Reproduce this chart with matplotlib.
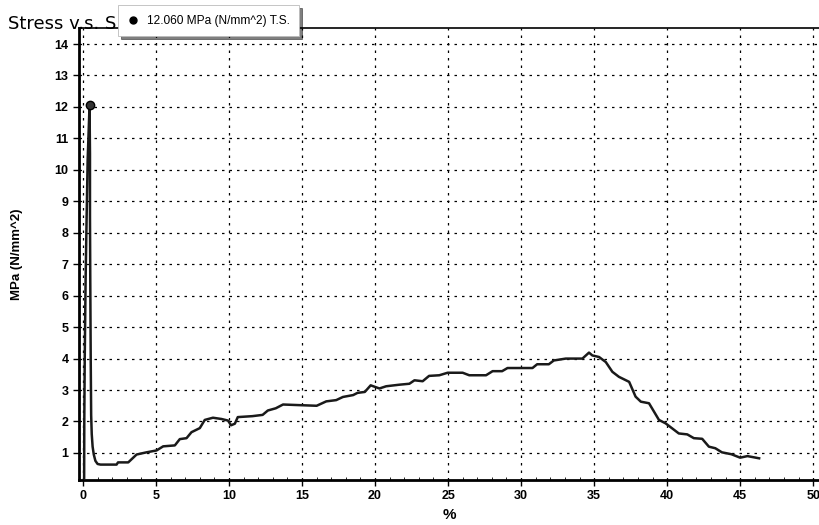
import matplotlib
matplotlib.use("Agg")
import matplotlib.pyplot as plt
from matplotlib.ticker import MultipleLocator

strain = [0.08, 0.09, 0.12, 0.18, 0.25, 0.32, 0.45, 0.48, 0.48, 0.50, 0.53, 0.56, 0.60, 0.66,
          0.74, 0.85, 1.0, 1.2, 2.3, 2.4, 3.1, 3.67, 4.35, 5.04, 5.49, 6.29, 6.63, 7.09, 7.43,
          8.0, 8.34, 8.9, 9.48, 9.93, 10.14, 10.4, 10.6, 11.6, 12.3, 12.66, 13.2, 13.7, 14.83,
          16.0, 16.66, 17.34, 17.8, 18.5, 18.8, 19.3, 19.7, 20.3, 20.76, 21.67, 22.35, 22.7,
          23.26, 23.7, 24.4, 24.97, 26.0, 26.45, 27.6, 28.05, 28.7, 29.07, 30.78, 31.1, 31.9,
          32.24, 33.06, 34.2, 34.65, 34.88, 35.34, 35.8, 36.25, 36.7, 37.4, 37.84, 38.2, 38.76,
          39.44, 39.9, 40.8, 41.38, 41.83, 42.4, 42.86, 43.3, 43.75, 44.4, 45.0, 45.5, 46.3]
stress = [0.2, 2.0, 4.0, 6.5, 8.5, 10.3, 12.06, 10.5, 8.5, 6.5, 4.0, 2.2, 1.6, 1.2,
          0.95, 0.75, 0.65, 0.63, 0.63, 0.70, 0.70, 0.95, 1.02, 1.08, 1.21, 1.24, 1.44, 1.47, 1.66,
          1.79, 2.05, 2.12, 2.08, 2.03, 1.88, 1.93, 2.14, 2.17, 2.21, 2.35, 2.42, 2.54, 2.52,
          2.50, 2.64, 2.68, 2.78, 2.84, 2.91, 2.94, 3.15, 3.05, 3.12, 3.17, 3.20, 3.31,
          3.28, 3.45, 3.47, 3.55, 3.55, 3.47, 3.47, 3.60, 3.60, 3.70, 3.70, 3.82, 3.82,
          3.94, 4.00, 4.00, 4.19, 4.10, 4.05, 3.89, 3.58, 3.42, 3.26, 2.79, 2.63, 2.58,
          2.05, 1.94, 1.62, 1.59, 1.47, 1.45, 1.20, 1.15, 1.02, 0.96, 0.85, 0.90, 0.83]

peak_strain = 0.45
peak_stress = 12.06
legend_label = "12.060 MPa (N/mm^2) T.S."
title_text = "Stress v.s. S"
x_ticks = list(range(0, 51, 5))
y_ticks = list(range(1, 15))

plt.rcParams['font.family'] = ['Liberation Sans', 'DejaVu Sans']

fig = plt.figure(figsize=(8.19, 5.25), dpi=100)
ax = fig.add_axes([0.0965, 0.0857, 0.9035, 0.861])

ax.plot(strain, stress, color='#1a1a1a', lw=1.8, zorder=3)
ax.plot([peak_strain], [peak_stress], 'o', color='#333333', mec='black', ms=6, zorder=4)

ax.set_xlim(-0.27, 50.4)
ax.set_ylim(0.14, 14.51)
ax.set_xticks(x_ticks)
ax.set_yticks(y_ticks)
ax.xaxis.set_minor_locator(MultipleLocator(1))
ax.tick_params(axis='both', which='major', labelsize=9, width=1, length=4, color='black')
ax.tick_params(axis='x', which='minor', direction='in', length=2)
for lab in ax.get_xticklabels() + ax.get_yticklabels():
    lab.set_fontweight('bold')

ax.grid(True, which='major', color='black', linestyle=(0, (2, 4)), linewidth=0.9)

for side in ['left', 'bottom']:
    ax.spines[side].set_linewidth(2.0)
ax.spines['top'].set_linewidth(1.2)
ax.spines['right'].set_visible(False)

ax.set_xlabel('%', fontsize=11, fontweight='bold', labelpad=4)
ax.set_ylabel('MPa (N/mm^2)', fontsize=9.5, fontweight='bold', labelpad=23)

fig.text(0.010, 0.945, title_text, fontsize=13, color='black', ha='left', va='baseline',
         family=['DejaVu Sans'])

h, = ax.plot([], [], 'o', color='black', ms=5)
leg = fig.legend([h], [legend_label], loc='upper left', bbox_to_anchor=(0.144, 0.99),
                 bbox_transform=fig.transFigure, frameon=True, fancybox=False,
                 shadow={'color': 'black'}, fontsize=8.6, handlelength=0.9,
                 handletextpad=0.7, borderpad=0.8, borderaxespad=0)
leg.get_frame().set_edgecolor('#bbbbbb')
leg.get_frame().set_linewidth(0.6)
leg.set_zorder(10)

fig.savefig('out.png', dpi=100)
